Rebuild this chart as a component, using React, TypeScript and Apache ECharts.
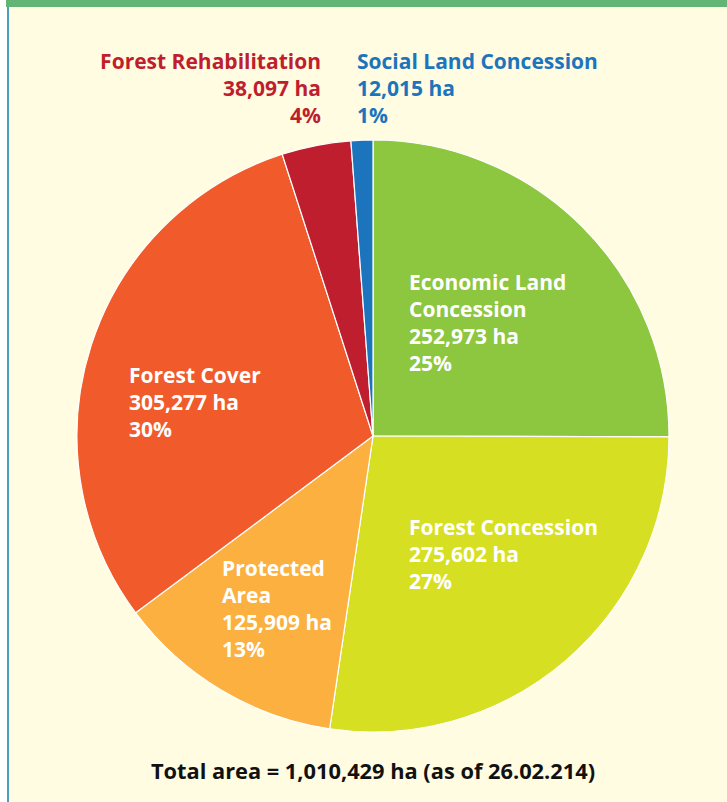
import React, { useEffect, useRef } from "react";
import * as echarts from "echarts";

const categories = [
  "Economic Land\nConcession",
  "Forest Concession",
  "Protected\nArea",
  "Forest Cover",
  "Forest Rehabilitation",
  "Social Land Concession",
];
const areas = [252973, 275602, 125909, 305277, 38097, 12015];
const percents = [25, 27, 13, 30, 4, 1];
const colors = ["#8DC63F", "#D7DF23", "#FBB040", "#F15A2B", "#BE1E2D", "#1C75BC"];
const labelColors = ["#FFFFFF", "#FFFFFF", "#FFFFFF", "#FFFFFF", "#BE1E2D", "#1C75BC"];
const totalText = "Total area = 1,010,429 ha (as of 26.02.214)";

// label anchor layout (x, top y, align)
const labelAnchors: [number, number, string][] = [
  [409, 268, "left"],
  [409, 513, "left"],
  [222, 554, "left"],
  [129, 361, "left"],
  [321, 47, "right"],
  [357, 47, "left"],
];

const fmt = (v: number) => v.toLocaleString("en-US");

export default function App() {
  const ref = useRef<HTMLDivElement>(null);
  useEffect(() => {
    if (!ref.current) return;
    const chart = echarts.init(ref.current, undefined, { renderer: "svg" });
    chart.setOption({
      animation: false,
      backgroundColor: "#FFFFFF",
      graphic: [
        { type: "rect", shape: { x: 9, y: 0, width: 718, height: 802 }, style: { fill: "#FFFCE2" }, z: -10 },
        { type: "rect", shape: { x: 7, y: 0, width: 2, height: 802 }, style: { fill: "#4A9EBF" }, z: -9 },
        { type: "rect", shape: { x: 6, y: 0, width: 721, height: 7 }, style: { fill: "#62B574" }, z: -8 },
        {
          type: "text",
          x: 373,
          y: 770,
          style: {
            text: totalText,
            fill: "#111111",
            font: "bold 21.8px 'Open Sans'",
            textAlign: "center",
            textVerticalAlign: "middle",
          },
        },
      ],
      series: [
        {
          type: "pie",
          center: [373, 436],
          radius: 296,
          startAngle: 90,
          clockwise: true,
          avoidLabelOverlap: false,
          itemStyle: { borderColor: "#FFFFFF", borderWidth: 1.2 },
          emphasis: { disabled: true },
          labelLine: { show: false },
          label: {
            show: true,
            position: "inside",
            fontFamily: "Open Sans",
            fontWeight: "bold",
            fontSize: 21,
            lineHeight: 27,
            formatter: (p: any) =>
              `${p.name}\n${fmt(p.value)} ha\n${percents[p.dataIndex]}%`,
          },
          labelLayout: (params: any) => {
            const a = labelAnchors[params.dataIndex];
            return { x: a[0], y: a[1], align: a[2], verticalAlign: "top" };
          },
          data: categories.map((c, i) => ({
            name: c,
            value: areas[i],
            itemStyle: { color: colors[i] },
            label: { color: labelColors[i], align: labelAnchors[i][2] },
          })),
        },
      ],
    });
    return () => chart.dispose();
  }, []);
  return (
    <div
      ref={ref}
      style={{ position: "fixed", left: 0, top: 0, width: 727, height: 802 }}
    />
  );
}
